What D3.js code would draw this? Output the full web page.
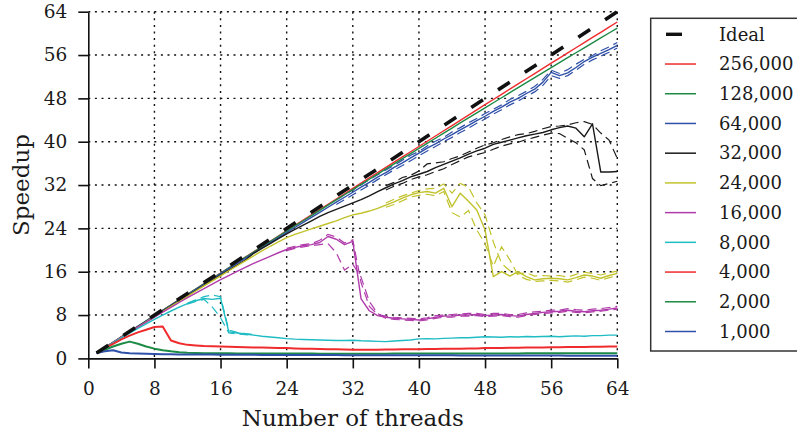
<!DOCTYPE html>
<html><head><meta charset="utf-8">
<script src="https://cdn.jsdelivr.net/npm/d3@7"></script>
<style>body{margin:0;background:#fff} text{font-family:"DejaVu Serif",serif;fill:#1a1a1a}</style>
</head><body><svg id="c" width="797" height="431"></svg>
<script>
// ---------- DATA ----------
const threads = [1,2,3,4,5,6,7,8,9,10,11,12,13,14,15,16,17,18,19,20,21,22,23,24,25,26,27,28,29,30,31,32,
  33,34,35,36,37,38,39,40,41,42,43,44,45,46,47,48,49,50,51,52,53,54,55,56,57,58,59,60,61,62,63,64];
const xTicks = [0,8,16,24,32,40,48,56,64];
const yTicks = [0,8,16,24,32,40,48,56,64];
const idealX = [1,64];
const idealY = [1,64];
const seriesNames = ["256,000","128,000","64,000","32,000","24,000","16,000","8,000","4,000","2,000","1,000"];

const s256k = [1,1.99,2.97,3.96,4.94,5.93,6.91,7.9,8.88,9.86,10.85,11.83,12.81,13.79,14.77,15.75,16.73,17.71,18.69,19.67,20.65,21.62,22.6,23.58,24.55,25.53,26.5,27.48,28.45,29.42,30.4,31.37,
  32.34,33.31,34.28,35.25,36.22,37.19,38.15,39.12,40.09,41.05,42.02,42.98,43.95,44.91,45.87,46.83,47.79,48.75,49.71,50.67,51.62,52.58,53.54,54.49,55.44,56.4,57.35,58.3,59.25,60.2,61.15,62.1];
const s128k = [1,1.99,2.98,3.96,4.95,5.93,6.92,7.9,8.88,9.86,10.84,11.82,12.8,13.77,14.75,15.72,16.7,17.67,18.64,19.61,20.58,21.55,22.52,23.48,24.45,25.41,26.37,27.33,28.29,29.25,30.21,31.16,
  32.12,33.07,34.02,34.97,35.92,36.87,37.81,38.76,39.7,40.64,41.58,42.52,43.46,44.39,45.33,46.26,47.19,48.12,49.05,49.98,50.9,51.83,52.75,53.67,54.59,55.51,56.42,57.34,58.25,59.16,60.07,60.98];
const s64k = [1,1.98,2.96,3.94,4.92,5.9,6.88,7.85,8.82,9.8,10.77,11.74,12.7,13.67,14.63,15.6,16.56,17.52,18.47,19.43,20.38,21.33,22.28,23.22,24.16,25.1,26.04,26.97,27.9,28.83,29.75,30.67,
  31.6,32.5,33.45,34.3,35.25,36.1,37,37.9,38.8,39.6,40.5,41.3,42.2,43,43.9,44.7,45.6,46.4,47.3,48,48.9,49.7,51,52.8,52.2,52.7,53.7,54.8,55.6,56.3,57,57.8];
const s32k = [1,1.97,2.94,3.9,4.87,5.83,6.8,7.76,8.72,9.68,10.63,11.58,12.53,13.48,14.42,15.36,16.3,17.23,18.16,19.4,20.3,21.2,22.1,23,23.8,24.6,25.4,26.2,26.9,27.5,28.1,28.7,
  29.3,30,30.8,31.5,32.2,32.8,33.5,34,34.5,35.2,35.8,36.4,37,37.7,38.3,38.8,39.5,39.9,40.3,40.7,41.1,41.4,41.7,42.2,42.6,42.9,42.5,40.9,43.3,34.4,34.4,34.5];
const s24k = [1,1.96,2.92,3.88,4.84,5.8,6.75,7.7,8.65,9.6,10.55,11.5,12.44,13.38,14.32,15.25,16.18,17.1,18.02,18.93,19.83,20.7,21.5,22.3,22.9,23.4,23.9,24.4,24.9,25.4,26,26.5,
  26.8,27.2,27.7,28.3,28.9,29.6,30.2,30.6,30.8,30.5,31.4,28,30.5,29,27.4,23.7,15.1,16,15.2,16,15.1,14.5,14.7,14.8,14.7,14.5,14.9,15.4,15.2,14.8,15.3,15.7];
const s16k = [1,1.96,2.92,3.87,4.82,5.76,6.7,7.62,8.53,9.43,10.32,11.2,12.06,12.9,13.72,14.52,15.3,16.06,16.8,17.52,18.2,18.85,19.5,20.1,20.5,20.8,21,21.4,22.5,22,21,21.6,
  11,8.8,7.9,7.6,7.4,7.3,7.2,7.1,7.3,7.6,7.8,7.8,8,8,8.1,7.9,8,8.1,7.9,7.8,8.1,8.3,8.5,8.6,8.7,8.9,8.7,8.6,8.8,8.9,9.1,9.3];
const s8k = [1,1.95,2.87,3.77,4.65,5.52,6.37,7.2,8,8.75,9.45,10.1,10.65,11.05,10.9,11.1,4.9,4.7,4.5,4.3,4.1,3.95,3.8,3.65,3.55,3.5,3.45,3.4,3.35,3.3,3.3,3.35,
  3.25,3.2,3.15,3.1,3.2,3.3,3.4,3.6,3.65,3.6,3.7,3.75,3.8,3.8,3.9,4,3.95,3.9,4,3.95,4.05,4,4.05,4.1,4,4.1,4.15,4.1,4.2,4.2,4.3,4.3];
const s4k = [1,1.9,2.7,3.5,4.2,4.8,5.3,5.8,5.9,3.3,2.8,2.5,2.4,2.3,2.25,2.2,2.15,2.1,2.05,2,2,1.95,1.9,1.9,1.85,1.8,1.8,1.75,1.7,1.7,1.65,1.6,
  1.6,1.6,1.6,1.65,1.65,1.7,1.7,1.7,1.75,1.75,1.8,1.8,1.8,1.85,1.85,1.9,1.9,1.9,1.95,1.95,2,2,2,2.05,2.05,2.1,2.1,2.1,2.15,2.15,2.2,2.2];
const s2k = [1,1.6,2.2,2.7,3.1,2.7,2.2,1.8,1.5,1.3,1.15,1.05,1,0.97,0.95,0.94,0.93,0.92,0.92,0.91,0.91,0.9,0.9,0.9,0.89,0.89,0.89,0.88,0.88,0.88,0.88,0.88,
  0.88,0.88,0.88,0.88,0.89,0.89,0.89,0.89,0.9,0.9,0.9,0.9,0.91,0.91,0.91,0.91,0.92,0.92,0.92,0.92,0.93,0.93,0.93,0.93,0.94,0.94,0.94,0.94,0.95,0.95,0.95,0.95];
const s1k = [1,1.3,1.5,1.1,0.95,0.9,0.85,0.8,0.78,0.76,0.74,0.73,0.72,0.71,0.7,0.69,0.68,0.67,0.66,0.66,0.65,0.65,0.64,0.64,0.63,0.63,0.62,0.62,0.61,0.61,0.6,0.6,
  0.6,0.59,0.59,0.58,0.58,0.58,0.57,0.57,0.57,0.56,0.56,0.56,0.55,0.55,0.55,0.54,0.54,0.54,0.53,0.53,0.53,0.52,0.52,0.52,0.52,0.51,0.51,0.51,0.5,0.5,0.5,0.5];

// individual runs (dashed), given from a starting thread count
const run64kStart = 30;
const run64kA = [29.3,30.2,31.1,32,33,33.9,34.8,35.6,36.6,37.5,38.2,39.2,40.1,40.8,41.8,42.6,43.5,44.3,45.2,46,46.8,47.8,48.5,49.3,50.2,51.5,53.2,52.6,53.3,54.3,55.2,55.9,56.8,57.5,58.3];
const run64kB = [28.4,29.3,30.2,31.1,32,33,33.9,34.8,35.6,36.5,37.4,38.3,39.1,40,40.8,41.7,42.5,43.4,44.2,45.1,45.9,46.8,47.5,48.4,49.2,50.4,52.2,51.7,52.2,53.2,54.3,55.1,55.8,56.5,57.3];
const run32kStart = 36;
const run32kA = [31.9,32.5,33.4,33.8,34.6,35.9,36.1,36.3,36.9,37.4,38.1,38.8,39.4,39.8,40.4,40.9,41.3,41.5,41.9,42.4,42.8,42.9,43.1,43.5,43.7,43.2,41.6,40.3,36.9];
const run32kB = [31.1,31.8,32.3,33,33.5,33.9,34.5,35,35.8,36.5,37.2,37.6,38,38.6,39.2,39.6,39.9,40.4,40.8,41.2,41.6,41.5,40.6,39.8,38.5,33.2,31.9,32.3,32.7];
const run24kStart = 36;
const run24kA = [28.7,29.4,30,30.5,31,31.3,31.4,32.2,30.5,32.3,31.6,28.7,26.5,21.5,17.5,16.2,15.6,15.8,15.2,15.3,15.2,15.3,15,15.5,15.9,15.7,15.4,15.8,16.1];
const run24kB = [27.9,28.4,29.1,29.8,30.1,30.3,30,30.8,26.9,26.1,27.3,23.7,21.2,17,20.6,18.2,15.3,14.6,14.2,14.3,14.4,14.3,14.1,14.5,15,14.8,14.4,14.9,15.3];
const run16kStart = 24;
const run16kA = [20.3,20.7,21,21.2,21.8,22.9,22.4,21.3,21.9,14,9.6,8.1,7.8,7.6,7.5,7.4,7.3,7.5,7.9,8,8.1,8.2,8.3,8.3,8.1,8.3,8.3,8.1,8.1,8.4,8.6,8.7,8.9,8.9,9.2,9,8.9,9.1,9.2,9.4,9.6];
const run16kB = [19.9,20.3,20.6,20.8,21,21.2,19.5,16.3,17.4,15,10.5,8.3,7.4,7.2,7.1,7,6.9,7.1,7.4,7.6,7.6,7.8,7.8,7.9,7.7,7.8,7.9,7.7,7.6,7.9,8.1,8.3,8.4,8.5,8.7,8.5,8.4,8.6,8.7,8.9,9.1];
const run8kStart = 12;
const run8kA = [10.2,10.8,11.4,11.7,11.4,5.2,4.8,4.6,4.4];
const run8kB = [10,10.5,10.9,9.5,7.5,4.7,4.5,4.4,4.2];

// ---------- STYLE ----------
const colRed = "#ef2b2d", colGreen = "#1d8a45", colBlue = "#2f50a8", colBlack = "#1a1a1a",
      colYellow = "#c2c22c", colMagenta = "#b03cab", colCyan = "#1fbcc4";
const seriesColors = [colRed,colGreen,colBlue,colBlack,colYellow,colMagenta,colCyan,colRed,colGreen,colBlue];
const seriesData = [s256k,s128k,s64k,s32k,s24k,s16k,s8k,s4k,s2k,s1k];
const runs = [
  {c: colBlue, start: run64kStart, v: run64kA}, {c: colBlue, start: run64kStart, v: run64kB},
  {c: colBlack, start: run32kStart, v: run32kA}, {c: colBlack, start: run32kStart, v: run32kB},
  {c: colYellow, start: run24kStart, v: run24kA}, {c: colYellow, start: run24kStart, v: run24kB},
  {c: colMagenta, start: run16kStart, v: run16kA}, {c: colMagenta, start: run16kStart, v: run16kB},
  {c: colCyan, start: run8kStart, v: run8kA}, {c: colCyan, start: run8kStart, v: run8kB}
];

const svg = d3.select("#c");
const L = 88.3, R = 617.3, T = 11.7, B = 358.4;
const x = d3.scaleLinear().domain([0,64]).range([L,R]);
const y = d3.scaleLinear().domain([0,64]).range([B,T]);

// grid
const grid = svg.append("g").attr("stroke","#111").attr("stroke-width",1.4).attr("stroke-dasharray","2,4.6");
grid.selectAll("line.h").data(yTicks.filter(d=>d>0)).join("line")
  .attr("x1",L).attr("x2",R).attr("y1",d=>y(d)).attr("y2",d=>y(d));
grid.selectAll("line.v").data(xTicks.filter(d=>d>0)).join("line")
  .attr("y1",T).attr("y2",B).attr("x1",d=>x(d)).attr("x2",d=>x(d));

const line = d3.line().x(d=>x(d[0])).y(d=>y(d[1]));

// dashed individual runs
const gr = svg.append("g").attr("fill","none");
runs.forEach(r => {
  const pts = r.v.map((v,i)=>[r.start+i, v]);
  gr.append("path").attr("d", line(pts)).attr("stroke", r.c).attr("stroke-width",1.2).attr("stroke-dasharray","9,5");
});
// mean lines
const gs = svg.append("g").attr("fill","none");
seriesData.forEach((s,k) => {
  const pts = threads.map((t,i)=>[t, s[i]]);
  gs.append("path").attr("d", line(pts)).attr("stroke", seriesColors[k])
    .attr("stroke-width", k>=7 ? 2 : 1.4).attr("stroke-linejoin","round");
});
// ideal
svg.append("path").attr("d", line(idealX.map((t,i)=>[t, idealY[i]])))
  .attr("fill","none").attr("stroke","#111").attr("stroke-width",3.6).attr("stroke-dasharray","14,18");

// axes
const ax = svg.append("g").attr("transform",`translate(0,${B})`)
  .call(d3.axisBottom(x).tickValues(xTicks).tickSize(10).tickSizeOuter(0).tickPadding(13));
const ay = svg.append("g").attr("transform",`translate(${L},0)`)
  .call(d3.axisLeft(y).tickValues(yTicks).tickSize(10).tickSizeOuter(0).tickPadding(11));
[ax,ay].forEach(a => {
  a.select(".domain").attr("stroke","#111").attr("stroke-width",1.6);
  a.selectAll(".tick line").attr("stroke","#111").attr("stroke-width",1.6);
  a.selectAll(".tick text").attr("font-family","DejaVu Serif").attr("font-size",18.5).attr("fill","#1a1a1a");
});

svg.append("text").attr("x",(L+R)/2).attr("y",426).attr("text-anchor","middle")
  .attr("font-size",23).text("Number of threads");
svg.append("text").attr("transform",`translate(29,${(T+B)/2}) rotate(-90)`).attr("text-anchor","middle")
  .attr("font-size",23).text("Speedup");

// legend
const lg = svg.append("g");
lg.append("rect").attr("x",650.7).attr("y",18.3).attr("width",160).attr("height",332.7)
  .attr("fill","#fff").attr("stroke","#333").attr("stroke-width",1.5);
const legNames = ["Ideal"].concat(seriesNames);
const legColors = ["#111"].concat(seriesColors);
legNames.forEach((n,i) => {
  const yy = 34.3 + i*29.72;
  if (i===0) lg.append("line").attr("x1",666).attr("x2",682).attr("y1",yy).attr("y2",yy).attr("stroke","#111").attr("stroke-width",3.4);
  else lg.append("line").attr("x1",665).attr("x2",696).attr("y1",yy).attr("y2",yy).attr("stroke",legColors[i]).attr("stroke-width",1.5);
  lg.append("text").attr("x",719).attr("y",yy).attr("dy","0.35em").attr("font-size",18).text(n);
});
</script></body></html>
